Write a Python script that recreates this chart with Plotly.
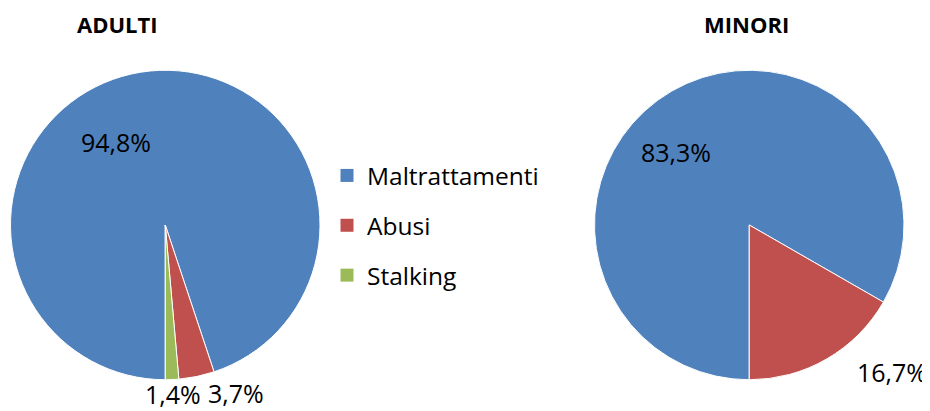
import plotly.graph_objects as go

categories = ["Maltrattamenti", "Abusi", "Stalking"]
adulti_values = [94.8, 3.7, 1.4]
minori_categories = ["Maltrattamenti", "Abusi"]
minori_values = [83.3, 16.7]
colors = ["#4F81BD", "#C0504D", "#9BBB59"]
titles = ["ADULTI", "MINORI"]

FONT = "Open Sans, Liberation Sans, sans-serif"

def fmt(v):
    return f"{v:.1f}".replace(".", ",") + "%"

# the page body has an 8px margin, so the figure is drawn 8px in from the window corner
OFF = 8
FW, FH = 930 - OFF, 411 - OFF

def fx(X):
    return (X - OFF) / FW

def fy(Y):
    return 1 - (Y - OFF) / FH

def dom(x0, x1, y0, y1):
    return dict(x=[fx(x0), fx(x1)], y=[fy(y1), fy(y0)])

fig = go.Figure()

fig.add_trace(go.Pie(
    labels=categories, values=adulti_values, sort=False, direction="clockwise",
    rotation=180, textinfo="none",
    marker=dict(colors=colors, line=dict(color="white", width=1)),
    domain=dom(10.5, 320, 70, 380), showlegend=False, hoverinfo="label+percent",
))

fig.add_trace(go.Pie(
    labels=minori_categories, values=minori_values, sort=False, direction="clockwise",
    rotation=180, textinfo="none",
    marker=dict(colors=colors[:2], line=dict(color="white", width=1)),
    domain=dom(594.5, 904, 70, 380), showlegend=False, hoverinfo="label+percent",
))

for i, c in enumerate(categories):
    fig.add_trace(go.Scatter(
        x=[None], y=[None], mode="markers", name=c, legendgroup=c,
        marker=dict(symbol="square", size=13, color=colors[i]),
        showlegend=True,
    ))

# slice value labels (placed like the original data labels)
label_pos_adulti = [(115.5, 142), (236, 392.5), (172.5, 394)]
label_pos_minori = [(676, 152), (892, 372)]
for v, (px, py) in zip(adulti_values, label_pos_adulti):
    fig.add_annotation(text=fmt(v), x=fx(px), y=fy(py), xref="paper", yref="paper",
                       xanchor="center", yanchor="middle", showarrow=False,
                       font=dict(family=FONT, size=25, color="black"))
for v, (px, py) in zip(minori_values, label_pos_minori):
    fig.add_annotation(text=fmt(v), x=fx(px), y=fy(py), xref="paper", yref="paper",
                       xanchor="center", yanchor="middle", showarrow=False,
                       font=dict(family=FONT, size=25, color="black"))

for t, px in zip(titles, [117, 746.5]):
    fig.add_annotation(text="<b>" + t + "</b>", x=fx(px), y=fy(24), xref="paper", yref="paper",
                       xanchor="center", yanchor="middle", showarrow=False,
                       font=dict(family=FONT, size=22, color="black"))

fig.update_layout(
    width=FW, height=FH, margin=dict(l=0, r=0, t=0, b=0, autoexpand=False),
    paper_bgcolor="white", plot_bgcolor="white",
    xaxis=dict(visible=False), yaxis=dict(visible=False),
    legend=dict(x=fx(327), y=fy(153), xanchor="left", yanchor="top",
                font=dict(family=FONT, size=24.5, color="black"),
                tracegroupgap=15, bgcolor="rgba(0,0,0,0)"),
)

fig.write_html("out.html")
